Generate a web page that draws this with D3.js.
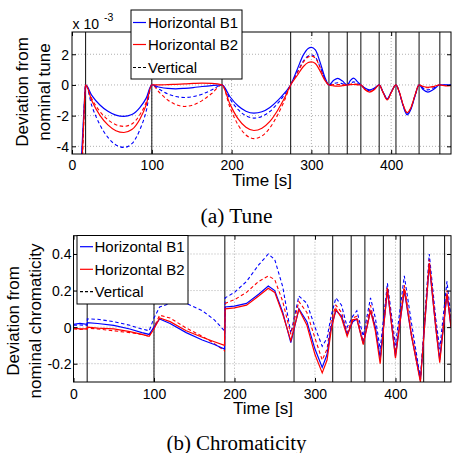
<!DOCTYPE html>
<html><head><meta charset="utf-8">
<script src="https://cdn.jsdelivr.net/npm/d3@7"></script>
<style>
body{margin:0;background:#fff;}
svg{display:block;}
text{font-family:"Liberation Sans",Arial,Helvetica,sans-serif;fill:#000;}
.cap{font-family:"Liberation Serif","Times New Roman",serif;}
</style></head>
<body>
<svg id="c" width="454" height="453"></svg>
<script>
// ---------- data ----------
const phaseTimes = [17, 100, 188, 274, 322, 345, 362, 385, 406, 435, 461];
const xTicks = [0, 100, 200, 300, 400];
const xTickLabels = ["0", "100", "200", "300", "400"];
const legendLabels = ["Horizontal B1", "Horizontal B2", "Vertical"];

// (a) tune, units of 1e-3
const tuneTicks = [-4, -2, 0, 2];
const tuneTickLabels = ["-4", "-2", "0", "2"];
const tuneTime = [0, 9, 13, 15, 17,
  25, 35, 45, 55, 65, 75, 85, 93, 100,
  110, 120, 130, 141, 152, 163, 175, 188,
  198, 208, 218, 228, 238, 248, 258, 266, 274,
  282, 290, 296, 300, 305, 311, 317, 322,
  328, 333, 339, 345, 349, 353, 358, 362,
  367, 373, 379, 385, 390, 395, 400, 406,
  410, 415, 420, 425, 430, 435, 440, 446, 453, 461, 468, 475];
const tuneB1H = [-30, -8, -3.6, -1.6, 0,
  -0.70, -1.31, -1.72, -1.97, -2.05, -1.93, -1.48, -0.86, 0,
  -0.15, -0.23, -0.25, -0.22, -0.17, -0.10, -0.04, 0,
  -0.77, -1.36, -1.71, -1.84, -1.75, -1.47, -1.01, -0.55, 0,
  0.98, 1.96, 2.38, 2.45, 2.28, 1.47, 0.49, 0,
  0.30, 0.43, 0.25, 0, 0.30, 0.45, 0.20, 0,
  -0.20, -0.32, -0.20, 0, -0.48, -0.90, -0.48, 0,
  -0.45, -1.35, -1.95, -1.55, -0.70, 0, -0.30, -0.47, -0.30, 0, 0, 0];
const tuneB2H = [-30, -10, -4.5, -2, 0,
  -1.05, -1.98, -2.60, -2.98, -3.10, -2.91, -2.23, -1.30, 0,
  0.0, 0.02, 0.04, 0.07, 0.10, 0.12, 0.10, 0,
  -1.25, -2.20, -2.76, -2.97, -2.82, -2.38, -1.63, -0.89, 0,
  0.60, 1.20, 1.46, 1.50, 1.40, 0.90, 0.30, 0,
  -0.06, -0.08, -0.05, 0, 0.02, 0.03, 0.01, 0,
  -0.30, -0.47, -0.30, 0, -0.50, -0.97, -0.50, 0,
  -0.42, -1.30, -1.80, -1.45, -0.65, 0, -0.10, -0.15, -0.10, 0, -0.06, -0.04];
const tuneB1V = [-30, -9, -4, -1.8, 0,
  -1.38, -2.60, -3.42, -3.91, -4.07, -3.83, -2.93, -1.71, 0,
  -0.30, -0.58, -0.75, -0.82, -0.76, -0.60, -0.33, 0,
  -0.91, -1.60, -2.01, -2.16, -2.05, -1.73, -1.19, -0.65, 0,
  0.78, 1.56, 1.89, 1.95, 1.81, 1.17, 0.39, 0,
  0.10, 0.14, 0.08, 0, 0.12, 0.20, 0.08, 0,
  -0.22, -0.38, -0.25, 0, -0.49, -0.93, -0.49, 0,
  -0.45, -1.35, -1.90, -1.50, -0.68, 0, -0.20, -0.32, -0.20, 0, -0.02, 0];
const tuneB2V = [-30, -11, -5, -2.2, 0,
  -0.92, -1.73, -2.27, -2.59, -2.70, -2.54, -1.94, -1.13, 0,
  -0.52, -0.98, -1.28, -1.40, -1.30, -1.02, -0.56, 0,
  -1.47, -2.59, -3.26, -3.50, -3.33, -2.80, -1.93, -1.05, 0,
  0.75, 1.50, 1.82, 1.88, 1.75, 1.13, 0.38, 0,
  0.02, 0.03, 0.02, 0, 0.05, 0.08, 0.03, 0,
  -0.27, -0.42, -0.28, 0, -0.50, -0.95, -0.50, 0,
  -0.43, -1.30, -1.82, -1.47, -0.66, 0, -0.12, -0.18, -0.12, 0, -0.04, -0.02];

// (b) chromaticity
const chromTicks = [-0.2, 0, 0.2, 0.4];
const chromTickLabels = ["-0.2", "0", "0.2", "0.4"];
const chromTime = [0, 8, 16.8, 17.2, 30, 50, 70, 85, 94, 100, 107, 120, 140, 160, 175, 187.6,
  188.4, 200, 215, 230, 242, 250, 260, 270,
  280, 290, 300, 309, 315, 320, 326,
  333, 340, 347, 352, 360, 369, 375, 381, 390, 400, 411, 420, 431, 442, 450, 455, 464, 469];
const chromB1H = [0.015, 0.02, 0.015, 0.025, 0.02, 0.01, -0.01, -0.03, -0.04, 0.0, 0.045, 0.02, -0.03, -0.07, -0.095, -0.12,
  0.11, 0.115, 0.13, 0.18, 0.225, 0.20, 0.08, -0.085,
  0.10, 0.03, -0.12, -0.22, -0.15, 0.0, 0.09,
  0.06, -0.04, 0.03, 0.045, -0.09, 0.09, 0.0, -0.17, 0.20, -0.16, 0.20, -0.05, -0.29, 0.34, 0.0, -0.18, 0.18, 0.0];
const chromB2H = [-0.005, -0.01, -0.01, 0.0, -0.005, -0.01, -0.025, -0.04, -0.05, -0.01, 0.05, 0.03, -0.02, -0.055, -0.08, -0.10,
  0.10, 0.105, 0.12, 0.17, 0.213, 0.19, 0.07, -0.075,
  0.097, 0.01, -0.15, -0.25, -0.18, -0.02, 0.10,
  0.05, -0.05, 0.04, 0.045, -0.096, 0.09, -0.02, -0.20, 0.21, -0.17, 0.21, -0.05, -0.30, 0.35, 0.0, -0.195, 0.185, 0.0];
const chromB1V = [0.01, 0.012, 0.01, 0.045, 0.043, 0.03, 0.01, -0.01, -0.02, 0.05, 0.11, 0.13, 0.13, 0.09, 0.04, -0.02,
  0.16, 0.19, 0.25, 0.34, 0.40, 0.37, 0.22, -0.035,
  0.17, 0.13, 0.0, -0.105, -0.06, 0.06, 0.16,
  0.12, 0.0, 0.06, 0.09, -0.05, 0.16, 0.05, -0.12, 0.24, -0.10, 0.28, 0.02, -0.28, 0.40, 0.05, -0.12, 0.25, 0.05];
const chromB2V = [-0.01, -0.012, -0.01, -0.005, -0.01, -0.02, -0.03, -0.04, -0.05, 0.0, 0.065, 0.05, -0.005, -0.05, -0.09, -0.13,
  0.13, 0.15, 0.19, 0.25, 0.28, 0.26, 0.14, -0.04,
  0.14, 0.08, -0.06, -0.18, -0.12, 0.03, 0.12,
  0.08, -0.03, 0.05, 0.06, -0.08, 0.12, 0.0, -0.18, 0.22, -0.14, 0.23, -0.03, -0.29, 0.37, 0.02, -0.17, 0.20, 0.02];

// ---------- drawing ----------
const svg = d3.select("#c");
const BLUE = "#0000ff", RED = "#ff0000";

function panel(cfg) {
  const x = d3.scaleLinear().domain(cfg.xDomain).range([cfg.left, cfg.right]);
  const y = d3.scaleLinear().domain(cfg.yDomain).range([cfg.bottom, cfg.top]);
  const g = svg.append("g");
  const cid = "clip" + cfg.id;
  svg.append("defs").append("clipPath").attr("id", cid)
    .append("rect").attr("x", cfg.left).attr("y", cfg.top)
    .attr("width", cfg.right - cfg.left).attr("height", cfg.bottom - cfg.top);

  // grid
  g.selectAll(".gx").data(xTicks.filter(d => d > 0)).join("line")
    .attr("x1", d => x(d)).attr("x2", d => x(d)).attr("y1", cfg.top).attr("y2", cfg.bottom)
    .attr("stroke", "#b0b0b0").attr("stroke-width", 1).attr("stroke-dasharray", "1,2");
  g.selectAll(".gy").data(cfg.yTicks).join("line")
    .attr("x1", cfg.left).attr("x2", cfg.right).attr("y1", d => y(d)).attr("y2", d => y(d))
    .attr("stroke", "#b0b0b0").attr("stroke-width", 1).attr("stroke-dasharray", "1,2");

  // phase lines
  g.selectAll(".ph").data(phaseTimes).join("line")
    .attr("x1", d => x(d)).attr("x2", d => x(d)).attr("y1", cfg.top).attr("y2", cfg.bottom)
    .attr("stroke", "#222").attr("stroke-width", 1.1);

  // series
  const series = [
    {v: cfg.b1v, c: BLUE, dash: "3.5,2.5", w: 1.1},
    {v: cfg.b2v, c: RED, dash: "3.5,2.5", w: 1.1},
    {v: cfg.b1h, c: BLUE, dash: null, w: 1.2},
    {v: cfg.b2h, c: RED, dash: null, w: 1.2}
  ];
  const line = d3.line().x(d => x(d[0])).y(d => y(d[1])).curve(cfg.curve);
  const lg = g.append("g").attr("clip-path", `url(#${cid})`);
  series.forEach(s => {
    lg.append("path").datum(cfg.t.map((t, i) => [t, s.v[i]]))
      .attr("d", line).attr("fill", "none").attr("stroke", s.c)
      .attr("stroke-width", s.w).attr("stroke-dasharray", s.dash);
  });

  // axes (ticks inward on all four sides)
  const ax = g.append("g").attr("transform", `translate(0,${cfg.bottom})`)
    .call(d3.axisBottom(x).tickValues(xTicks).tickSize(-4).tickPadding(0).tickFormat((d, i) => xTickLabels[i]));
  const axT = g.append("g").attr("transform", `translate(0,${cfg.top})`)
    .call(d3.axisTop(x).tickValues(xTicks).tickSize(-4).tickFormat(""));
  const ay = g.append("g").attr("transform", `translate(${cfg.left},0)`)
    .call(d3.axisLeft(y).tickValues(cfg.yTicks).tickSize(-4).tickPadding(0).tickFormat((d, i) => cfg.yTickLabels[i]));
  const ayR = g.append("g").attr("transform", `translate(${cfg.right},0)`)
    .call(d3.axisRight(y).tickValues(cfg.yTicks).tickSize(-4).tickFormat(""));
  [ax, axT, ay, ayR].forEach(a => {
    a.select(".domain").remove();
    a.selectAll("line").attr("stroke", "#000");
    a.selectAll("text").style("font-size", "14px").attr("fill", "#000")
      .style("font-family", '"Liberation Sans",Arial,sans-serif');
  });
  ax.selectAll("text").attr("dy", null).attr("y", cfg.xLabelY - cfg.bottom);
  ay.selectAll("text").attr("x", -cfg.yLabelPad).attr("dy", "0.35em");

  g.append("rect").attr("x", cfg.left).attr("y", cfg.top)
    .attr("width", cfg.right - cfg.left).attr("height", cfg.bottom - cfg.top)
    .attr("fill", "none").attr("stroke", "#000").attr("stroke-width", 1);

  // legend
  const L = cfg.legend;
  const lgd = g.append("g");
  lgd.append("rect").attr("x", L.x).attr("y", L.y).attr("width", L.w).attr("height", L.h)
    .attr("fill", "#fff").attr("stroke", "#000").attr("stroke-width", 1);
  const lcol = [BLUE, RED, "#000"], ldash = [null, null, "3,2"];
  legendLabels.forEach((lab, i) => {
    const yy = L.rows[i];
    lgd.append("line").attr("x1", L.sx1).attr("x2", L.sx2).attr("y1", yy).attr("y2", yy)
      .attr("stroke", lcol[i]).attr("stroke-width", 1.2).attr("stroke-dasharray", ldash[i]);
    lgd.append("text").attr("x", L.tx).attr("y", yy + 5.5).style("font-size", "15px").text(lab);
  });

  // axis titles
  g.append("text").attr("x", cfg.xTitleX).attr("y", cfg.xTitleY).attr("text-anchor", "middle")
    .style("font-size", "17px").text("Time [s]");
  cfg.yTitle.forEach((t, i) => {
    g.append("text").attr("transform", `translate(${cfg.yTitleX[i]},${cfg.yTitleY}) rotate(-90)`)
      .attr("text-anchor", "middle").style("font-size", "17px").text(t);
  });
  g.append("text").attr("class", "cap").attr("x", 236.5).attr("y", cfg.capY)
    .attr("text-anchor", "middle").style("font-size", "20px")
    .attr("textLength", cfg.capLen).attr("lengthAdjust", "spacingAndGlyphs").text(cfg.caption);
  return {x, y, g};
}

const pa = panel({
  id: "a", left: 72, right: 451, top: 32, bottom: 154,
  xDomain: [0, 475], yDomain: [-4.5, 3.45],
  yTicks: tuneTicks, yTickLabels: tuneTickLabels, yLabelPad: 3, xLabelY: 169.5,
  t: tuneTime, b1h: tuneB1H, b2h: tuneB2H, b1v: tuneB1V, b2v: tuneB2V,
  curve: d3.curveMonotoneX,
  legend: {x: 131, y: 10, w: 111, h: 69, rows: [22.5, 44.5, 67.5], sx1: 133, sx2: 146, tx: 148},
  xTitleX: 262, xTitleY: 186,
  yTitle: ["Deviation from", "nominal tune"], yTitleX: [28, 50], yTitleY: 92,
  caption: "(a) Tune", capY: 223, capLen: 72
});
// exponent label
pa.g.append("text").attr("x", 72.5).attr("y", 29).style("font-size", "14px").text("x 10");
pa.g.append("text").attr("x", 104).attr("y", 21).style("font-size", "10.5px").text("-3");

panel({
  id: "b", left: 73.5, right: 451, top: 235.7, bottom: 382,
  xDomain: [0, 469], yDomain: [-0.3, 0.5],
  yTicks: chromTicks, yTickLabels: chromTickLabels, yLabelPad: 2, xLabelY: 398.5,
  t: chromTime, b1h: chromB1H, b2h: chromB2H, b1v: chromB1V, b2v: chromB2V,
  curve: d3.curveLinear,
  legend: {x: 77, y: 235.5, w: 111, h: 68.5, rows: [246.7, 269.3, 291.7], sx1: 80, sx2: 93, tx: 94.5},
  xTitleX: 263, xTitleY: 414,
  yTitle: ["Deviation from", "nominal chromaticity"], yTitleX: [19, 41], yTitleY: 321,
  caption: "(b) Chromaticity", capY: 450, capLen: 140
});
</script>
</body></html>
